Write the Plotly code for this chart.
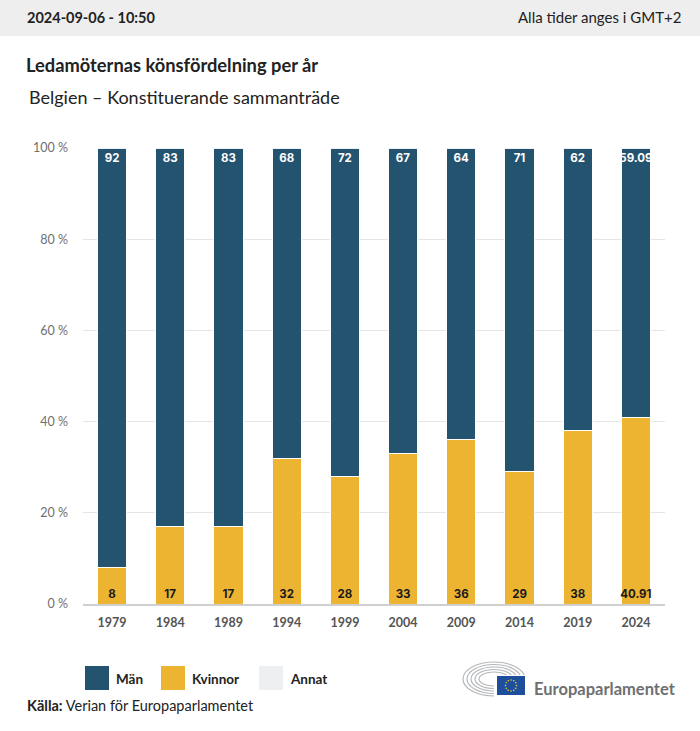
import math
import plotly.graph_objects as go

years = ["1979", "1984", "1989", "1994", "1999", "2004", "2009", "2014", "2019", "2024"]
man = [92, 83, 83, 68, 72, 67, 64, 71, 62, 59.09]
kvinnor = [8, 17, 17, 32, 28, 33, 36, 29, 38, 40.91]
annat = [0, 0, 0, 0, 0, 0, 0, 0, 0, 0]
series_names = ["Män", "Kvinnor", "Annat"]
y_ticks = [0, 20, 40, 60, 80, 100]
y_ticktext = ["%d %%" % v for v in y_ticks]

C_MAN = "#24536f"
C_KV = "#edb432"
C_AN = "#eeeff1"

W, H = 700, 731
L, R, T, B = 83, 665, 148, 604

def px(x):
    return (x - L) / (R - L)

def py(y):
    return (B - y) / (B - T)

def fmt(v):
    return ("%g" % v)

fig = go.Figure()
fig.add_trace(go.Bar(
    x=years, y=kvinnor, name=series_names[1], marker=dict(color=C_KV, line=dict(color="white", width=1)),
    text=[fmt(v) for v in kvinnor], textposition="inside", insidetextanchor="start",
    textfont=dict(family="Inter", size=11.5, color="#1a1a1a", weight="bold"),
    textangle=0, constraintext="none", cliponaxis=False, hoverinfo="skip"))
fig.add_trace(go.Bar(
    x=years, y=man, name=series_names[0], marker=dict(color=C_MAN, line=dict(color="white", width=1)),
    text=[fmt(v) for v in man], textposition="inside", insidetextanchor="end",
    textfont=dict(family="Inter", size=11.5, color="white", weight="bold"),
    textangle=0, constraintext="none", cliponaxis=False, hoverinfo="skip"))
fig.add_trace(go.Bar(
    x=years, y=annat, name=series_names[2], marker=dict(color=C_AN), hoverinfo="skip"))

fig.update_layout(
    width=W, height=H, barmode="stack", bargap=0.5, showlegend=False,
    margin=dict(l=L, r=W - R, t=T, b=H - B, pad=0),
    paper_bgcolor="white", plot_bgcolor="white",
    uniformtext=dict(mode="show", minsize=11),
    font=dict(family="Lato", color="#222"),
)
fig.update_yaxes(range=[0, 100], tickmode="array", tickvals=y_ticks, ticktext=y_ticktext, showgrid=True,
                 gridcolor="#e6e6e6", gridwidth=1, zeroline=False,
                 tickfont=dict(family="Lato", size=12.5, color="#707070"), ticklabelstandoff=14,
                 showline=False, fixedrange=True)
fig.update_xaxes(showline=True, linecolor="#cfcfcf", linewidth=1.5, ticks="",
                 tickfont=dict(family="Lato", size=12.5, color="#555", weight="bold"),
                 ticklabelstandoff=6, fixedrange=True)

shapes = []
ann = []
# header band
shapes.append(dict(type="rect", xref="paper", yref="paper", x0=px(0), x1=px(W), y0=py(36), y1=py(0),
                   fillcolor="#eeeeee", line=dict(width=0), layer="below"))
ann.append(dict(text="<b>2024-09-06 - 10:50</b>", x=px(25), y=py(17), xanchor="left", yanchor="middle",
                font=dict(family="Lato", size=14.5, color="#222")))
ann.append(dict(text="Alla tider anges i GMT+2", x=px(683), y=py(17), xanchor="right", yanchor="middle",
                font=dict(family="Lato", size=15, color="#222")))
ann.append(dict(text="<b>Ledamöternas könsfördelning per år</b>", x=px(24), y=py(65), xanchor="left",
                yanchor="middle", font=dict(family="Lato", size=18.3, color="#222")))
ann.append(dict(text="Belgien – Konstituerande sammanträde", x=px(27), y=py(97), xanchor="left",
                yanchor="middle", font=dict(family="Lato", size=18, color="#222")))

# legend
leg = [(85, C_MAN, series_names[0]), (161, C_KV, series_names[1]), (259, C_AN, series_names[2])]
for x0, col, name in leg:
    shapes.append(dict(type="rect", xref="paper", yref="paper", x0=px(x0), x1=px(x0 + 24),
                       y0=py(690), y1=py(666), fillcolor=col, line=dict(width=0)))
    ann.append(dict(text="<b>%s</b>" % name, x=px(x0 + 29), y=py(679), xanchor="left", yanchor="middle",
                    font=dict(family="Lato", size=13.5, color="#222")))

ann.append(dict(text="<b>Källa:</b> Verian för Europaparlamentet", x=px(25), y=py(705), xanchor="left",
                yanchor="middle", font=dict(family="Lato", size=14.5, color="#222")))

# logo: hemicycle
cx, cy = 494, 679
for i, (rx, ry) in enumerate([(31, 17), (27, 14.5), (23, 12), (19, 9.5), (15, 7)]):
    shapes.append(dict(type="circle", xref="paper", yref="paper", x0=px(cx - rx), x1=px(cx + rx),
                       y0=py(cy + ry), y1=py(cy - ry), line=dict(color="#b5b8bb", width=1.2)))
shapes.append(dict(type="rect", xref="paper", yref="paper", x0=px(494), x1=px(530), y0=py(700), y1=py(675),
                   fillcolor="white", line=dict(width=0)))
shapes.append(dict(type="rect", xref="paper", yref="paper", x0=px(497), x1=px(525), y0=py(695), y1=py(676),
                   fillcolor="#1d4f9c", line=dict(width=0)))
fx, fy = 511, 685.5
for k in range(12):
    a = 2 * math.pi * k / 12
    sx, sy = fx + 5.5 * math.cos(a), fy + 5.5 * math.sin(a)
    shapes.append(dict(type="circle", xref="paper", yref="paper", x0=px(sx - 0.8), x1=px(sx + 0.8),
                       y0=py(sy + 0.8), y1=py(sy - 0.8), fillcolor="#f2d130", line=dict(width=0)))
ann.append(dict(text="<b>Europaparlamentet</b>", x=px(532), y=py(689), xanchor="left", yanchor="middle",
                font=dict(family="Lato", size=16.5, color="#6d6f71")))

for a in ann:
    a.update(xref="paper", yref="paper", showarrow=False)
fig.update_layout(shapes=shapes, annotations=ann)

fig.write_html("out.html", config={"displayModeBar": False},
               post_script="document.body.style.margin='0';document.body.style.overflow='hidden';")
